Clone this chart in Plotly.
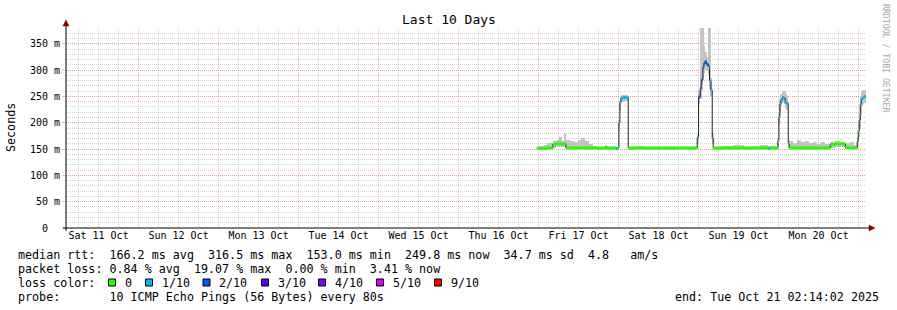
import pandas as pd
import plotly.graph_objects as go

# ---------------- data (hours relative to 2025-10-17 00:00) ----------------
hours = [-0.5, 0.5, 1.5, 2.5, 3.5,
         4.3, 5.3, 6.2, 7.1, 7.6,
         8.2, 9.4, 10.6, 11.8, 12.8, 13.9, 15.1, 16.2, 17.4, 20.1, 20.6, 23.2, 23.8,
         24.1, 24.4, 24.7, 25.5, 26.3,
         26.9, 29.5, 31.5, 35.0, 38.0, 42.0, 45.0,
         47.6, 48.0, 48.5, 48.8, 49.3, 49.6, 50.0, 50.3, 50.6, 51.1, 51.3, 51.7, 52.1,
         52.4, 55.0, 58.5, 61.5, 64.0, 66.5, 68.8, 69.3, 71.0,
         71.8, 72.1, 72.4, 72.7, 73.1, 73.7, 74.0, 74.5, 74.9,
         75.2, 76.4, 77.6, 78.8, 80.0, 81.2, 82.4, 83.6, 84.8, 86.0,
         87.5, 89.0, 90.5,
         92.0, 93.5, 94.7,
         95.6, 95.9, 96.2, 96.5, 96.8, 97.3, 97.7]
median_ms = [152, 151, 151, 152, 152,
             159, 160, 160, 160, 160,
             152, 152, 152, 152, 152, 152, 152, 152, 152, 154, 152, 151, 152,
             200, 237, 247, 248, 248,
             152, 152, 152, 152, 152, 152, 152,
             172, 249, 265, 281, 305, 313, 317, 312, 310, 306, 280, 262, 170,
             152, 152, 152, 152, 152, 152, 151, 152, 152,
             165, 210, 235, 243, 248, 247, 238, 237, 160,
             152, 152, 152, 152, 152, 152, 152, 152, 152, 152,
             159, 160, 160,
             153, 152, 152,
             165, 185, 205, 235, 245, 248, 250]
smoke_lo = [150, 150, 150, 150, 150,
            152, 153, 153, 153, 153,
            150, 150, 150, 150, 150, 150, 150, 150, 150, 151, 150, 150, 150,
            185, 225, 240, 242, 242,
            150, 150, 150, 150, 150, 150, 150,
            160, 235, 245, 260, 285, 295, 300, 300, 298, 290, 265, 250, 160,
            150, 150, 150, 150, 150, 150, 150, 150, 150,
            155, 195, 220, 232, 238, 236, 228, 225, 152,
            150, 150, 150, 150, 150, 150, 150, 150, 150, 150,
            152, 153, 153,
            150, 150, 150,
            155, 172, 190, 215, 232, 236, 238]
smoke_hi = [153, 156, 158, 161, 162,
            165, 168, 172, 166, 180,
            168, 165, 163, 168, 171, 165, 159, 156, 153, 156, 153, 153, 153,
            205, 242, 252, 253, 252,
            153, 155, 153, 154, 153, 154, 153,
            178, 262, 380, 380, 380, 345, 335, 325, 318, 380, 380, 285, 180,
            153, 155, 157, 153, 156, 157, 156, 155, 153,
            170, 220, 245, 255, 260, 260, 255, 250, 168,
            165, 162, 167, 163, 165, 161, 164, 160, 163, 159,
            164, 165, 163,
            161, 163, 158,
            172, 195, 215, 248, 258, 262, 262]
loss_tenths = [0, 0, 0, 0, 0,
               0, 0, 0, 0, 0,
               0, 0, 0, 0, 0, 0, 0, 0, 0, 0, 0, 1, 0,
               1, 1, 1, 1, 1,
               0, 0, 0, 0, 0, 0, 0,
               1, 2, 2, 2, 2, 2, 2, 2, 2, 1, 1, 1, 1,
               0, 0, 0, 0, 0, 0, 1, 0, 0,
               0, 1, 1, 1, 1, 1, 1, 1, 0,
               0, 0, 0, 0, 0, 0, 0, 0, 0, 0,
               0, 0, 0,
               0, 0, 0,
               0, 0, 1, 1, 1, 1, 1]

y_tick_vals = [0, 50, 100, 150, 200, 250, 300, 350]
y_tick_text = ["0\u00a0\u00a0", "50 m", "100 m", "150 m", "200 m", "250 m", "300 m", "350 m"]

loss_levels = [0, 1, 2, 3, 4, 5, 9]
loss_labels = ["0", "1/10", "2/10", "3/10", "4/10", "5/10", "9/10"]
loss_colors = ["#26ff00", "#00b8ff", "#0059ff", "#5e00ff", "#7e00ff", "#dd00ff", "#ff0000"]

stats_line1 = "median rtt:  166.2 ms avg  316.5 ms max  153.0 ms min  249.8 ms now  34.7 ms sd  4.8   am/s"
stats_line2 = "packet loss: 0.84 % avg  19.07 % max  0.00 % min  3.41 % now"
probe_line = "probe:       10 ICMP Echo Pings (56 Bytes) every 80s"
end_line = "end: Tue Oct 21 02:14:02 2025"

base_time = pd.Timestamp("2025-10-17 00:00:00")
range_start = pd.Timestamp("2025-10-11 02:14:02")
range_end = pd.Timestamp("2025-10-21 02:14:02")

# ---------------- derived ----------------
times = [base_time + pd.Timedelta(hours=h) for h in hours]
ends = times[1:] + [range_end]
widths_ms = [(e - s).total_seconds() * 1000 for s, e in zip(times, ends)]

FONT = "DejaVu Sans Mono"
L, R, T, B = 66, 31, 28, 82
W, H = 897, 310
PW, PH = W - L - R, H - T - B


def px(xp):
    return (xp - L) / PW


def py(yp):
    return (T + PH - yp) / PH


fig = go.Figure()

# smoke
fig.add_trace(go.Bar(
    x=times, y=[h - l for h, l in zip(smoke_hi, smoke_lo)], base=smoke_lo,
    width=widths_ms, offset=0,
    marker=dict(color="#c4c4c4", line=dict(width=0)),
    hoverinfo="skip"))

# black median line
fig.add_trace(go.Scatter(
    x=times + [range_end], y=median_ms + [median_ms[-1]],
    mode="lines", line=dict(color="#202020", width=1, shape="hv"),
    hoverinfo="skip"))

# loss-coloured median segments
for lvl, col in zip(loss_levels, loss_colors):
    xs, ys = [], []
    for s, e, m, lo in zip(times, ends, median_ms, loss_tenths):
        if lo == lvl:
            xs += [s, e, None]
            ys += [m, m, None]
    if xs:
        fig.add_trace(go.Scatter(x=xs, y=ys, mode="lines",
                                 line=dict(color=col, width=3),
                                 hoverinfo="skip"))

RED = "rgba(255,90,90,0.45)"
GRAY = "rgba(160,160,160,0.45)"

fig.update_xaxes(
    type="date", range=[range_start, range_end],
    tick0="2025-10-11", dtick=86400000, ticklabelmode="period",
    tickformat="%a %d %b", tickfont=dict(family=FONT, size=10, color="black"),
    showgrid=True, gridcolor=RED, griddash="1px,1px", gridwidth=1,
    minor=dict(tick0="2025-10-11", dtick=6 * 3600000, showgrid=True,
               gridcolor=GRAY, griddash="1px,1px", gridwidth=1),
    ticks="", showline=False, zeroline=False, fixedrange=True)

fig.update_yaxes(
    range=[0, 380], tickvals=y_tick_vals, ticktext=y_tick_text,
    tickfont=dict(family=FONT, size=10, color="black"),
    showgrid=True, gridcolor=RED, griddash="1px,1px", gridwidth=1,
    minor=dict(dtick=10, showgrid=True, gridcolor=GRAY, griddash="1px,1px", gridwidth=1),
    ticks="outside", ticklen=3, tickcolor=RED,
    showline=False, zeroline=False, fixedrange=True)

shapes = []
# axes lines
shapes.append(dict(type="line", xref="paper", yref="paper", x0=px(63), x1=px(870), y0=0, y1=0,
                   line=dict(color="black", width=1)))
shapes.append(dict(type="line", xref="paper", yref="paper", x0=0, x1=0, y0=py(231), y1=py(25),
                   line=dict(color="black", width=1)))
# arrows
shapes.append(dict(type="path", xref="paper", yref="paper",
                   path=f"M {px(63)},{py(26)} L {px(69)},{py(26)} L {px(66)},{py(20)} Z",
                   fillcolor="#8b0000", line=dict(color="#8b0000", width=0.5)))
shapes.append(dict(type="path", xref="paper", yref="paper",
                   path=f"M {px(869)},{py(225)} L {px(869)},{py(231)} L {px(875)},{py(228)} Z",
                   fillcolor="#8b0000", line=dict(color="#8b0000", width=0.5)))

ann = []
TF = dict(family=FONT, size=11.7, color="black")
ann.append(dict(text="Last 10 Days", x=px(448.5), y=py(19), xref="paper", yref="paper",
                showarrow=False, xanchor="center", yanchor="middle",
                font=dict(family=FONT, size=13, color="black")))
ann.append(dict(text="Seconds", x=px(11), y=py(127), xref="paper", yref="paper",
                showarrow=False, xanchor="center", yanchor="middle", textangle=-90,
                font=TF))
ann.append(dict(text="RRDTOOL / TOBI OETIKER", x=px(886), y=py(59), xref="paper", yref="paper",
                showarrow=False, xanchor="center", yanchor="middle", textangle=90,
                font=dict(family=FONT, size=8.2, color="#a8a8a8")))

line_y = [254.5, 268.5, 282.5, 296.5]
for txt, yy in [(stats_line1, line_y[0]), (stats_line2, line_y[1]),
                ("loss color:", line_y[2]), (probe_line, line_y[3])]:
    ann.append(dict(text=txt.replace(" ", "\u00a0"), x=px(16), y=py(yy), xref="paper", yref="paper",
                    showarrow=False, xanchor="left", yanchor="middle", font=TF))
ann.append(dict(text=end_line.replace(" ", "\u00a0"), x=px(881), y=py(line_y[3]), xref="paper",
                yref="paper", showarrow=False, xanchor="right", yanchor="middle", font=TF))

box_x = [108.5, 145.5, 203, 261.5, 318.5, 376.5, 434.5]
for bx, col, lab in zip(box_x, loss_colors, loss_labels):
    shapes.append(dict(type="rect", xref="paper", yref="paper",
                       x0=px(bx), x1=px(bx + 7), y0=py(286), y1=py(279),
                       fillcolor=col, line=dict(color="black", width=1)))
    ann.append(dict(text=lab, x=px(bx + 14), y=py(line_y[2]), xref="paper", yref="paper",
                    showarrow=False, xanchor="left", yanchor="middle", font=TF))

fig.update_layout(width=W, height=H, margin=dict(l=L, r=R, t=T, b=B, pad=0),
                  paper_bgcolor="white", plot_bgcolor="white", showlegend=False,
                  barmode="overlay", bargap=0, shapes=shapes, annotations=ann)

fig.write_html("out.html")
